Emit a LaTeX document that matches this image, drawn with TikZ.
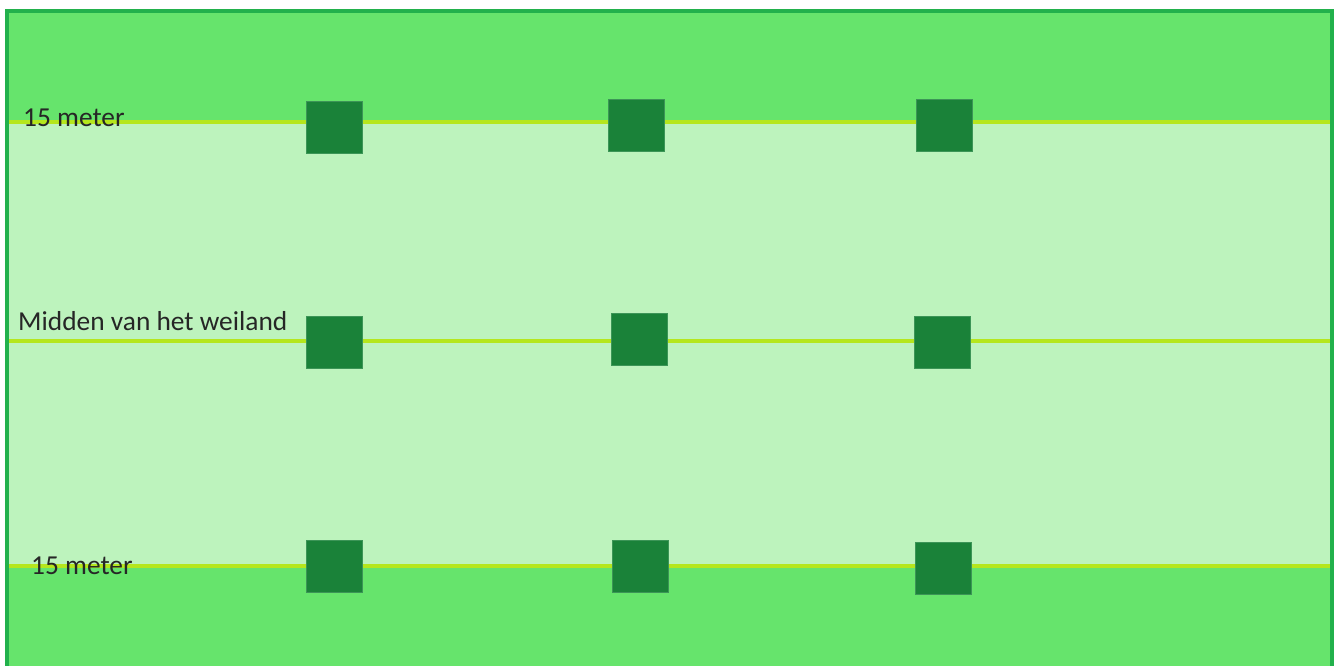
\documentclass[tikz,border=0pt]{standalone}
\usepackage{fontspec}
\setmainfont{Carlito}
\usetikzlibrary{positioning}
\definecolor{fieldedge}{RGB}{34,177,76}
\definecolor{strookbg}{RGB}{102,228,108}
\definecolor{weidebg}{RGB}{189,243,189}
\definecolor{lijnkleur}{RGB}{181,230,29}
\definecolor{plantgreen}{RGB}{26,130,57}

\begin{document}
\begin{tikzpicture}[x=1pt,y=-1pt,
  plant/.style={fill=plantgreen,draw=plantgreen!85!white,line width=0.6pt,inner sep=0pt,minimum width=56pt,minimum height=52pt},
  lbl/.style={anchor=base west,inner sep=0pt,font=\fontsize{27.4}{32}\selectfont,text=black!85},
  lijn/.style={draw=lijnkleur,line width=4pt}]
\useasboundingbox (0,0) rectangle (1338,666);
\clip (0,0) rectangle (1338,666);
% weiland met stroken
\fill[strookbg] (7,11) rectangle (1332,680);
\fill[weidebg] (7,122) rectangle (1332,566);
\coordinate (l1) at (7,122);   \coordinate (r1) at (1332,122);
\coordinate (l2) at (7,341);   \coordinate (r2) at (1332,341);
\coordinate (l3) at (7,566);   \coordinate (r3) at (1332,566);
\draw[lijn] (l1) -- (r1);
\draw[lijn] (l2) -- (r2);
\draw[lijn] (l3) -- (r3);
\draw[fieldedge,line width=4pt] (7,680) -- (7,11) -- (1332,11) -- (1332,680);
% bomen
\node[plant] (a1) at (334,127.5) {};
\node[plant] (a2) at (636.5,125) {};
\node[plant] (a3) at (944,125.5) {};
\node[plant] (b1) at (334,342) {};
\node[plant] (b2) at (639.5,339) {};
\node[plant] (b3) at (942.5,342) {};
\node[plant] (c1) at (334,566.5) {};
\node[plant] (c2) at (640.5,566.5) {};
\node[plant] (c3) at (943.5,568) {};
% teksten
\node[lbl] (boven) at (23,127) {15 meter};
\node[lbl] (midden) at (18,330) {Midden van het weiland};
\node[lbl] (onder) at (31,574) {15 meter};
\end{tikzpicture}
\end{document}
